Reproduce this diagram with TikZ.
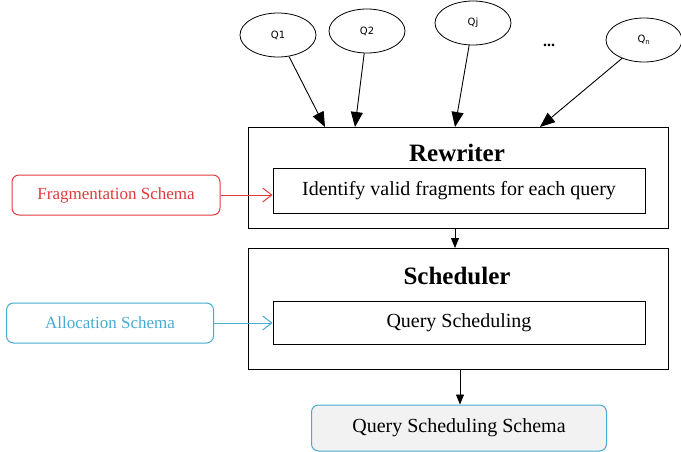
\documentclass[tikz,border=0pt]{standalone}
\usepackage{fontspec}
\setmainfont{Liberation Serif}
\newfontfamily\labelfont{DejaVu Sans}
\usetikzlibrary{arrows.meta,shapes.geometric}
\definecolor{fragred}{RGB}{226,58,58}
\definecolor{allocblue}{RGB}{72,170,210}
\definecolor{schemafill}{RGB}{242,242,242}
\tikzset{
  query/.style={draw,ellipse,line width=0.8pt,minimum width=76pt,minimum height=44pt,inner sep=0pt,font=\labelfont\fontsize{10}{12}\selectfont},
  outerbox/.style={draw,line width=1pt,minimum width=420pt,anchor=north west},
  innerbox/.style={draw,line width=1pt,minimum width=372pt,minimum height=45pt,font=\fontsize{20}{24}\selectfont},
  title/.style={font=\bfseries\fontsize{25}{28}\selectfont},
  feed/.style={draw,rounded corners=7pt,line width=1pt,minimum height=40pt,font=\fontsize{17}{20}\selectfont},
  qarrow/.style={-{Triangle[length=15pt,width=12pt]},line width=0.9pt},
  flow/.style={-{Triangle[length=10pt,width=8pt]},line width=0.9pt},
  inarrow/.style={-{Straight Barb[length=9pt,width=14pt]},line width=1pt}
}
\begin{document}
\begin{tikzpicture}[x=1pt,y=-1pt]
\useasboundingbox (0,0) rectangle (681,452);

% incoming queries
\node[query] (q1) at (278,35) {Q1};
\node[query] (q2) at (367,31) {Q2};
\node[query] (qj) at (473,23) {Qj};
\node[query] (qn) at (644,40) {Q\textsubscript{n}};
\node[font=\bfseries\fontsize{16}{18}\selectfont] (dots) at (549,45) {...};

% rewriter stage
\node[outerbox,minimum height=101pt] (rw) at (248,127) {};
\node[title] (rwt) at (457,153) {Rewriter};
\node[innerbox] (ident) at (459,191) {Identify valid fragments for each query};

% scheduler stage
\node[outerbox,minimum height=121pt] (sc) at (248,248) {};
\node[title] (sct) at (457,276) {Scheduler};
\node[innerbox,minimum height=43pt] (qs) at (459,323) {Query Scheduling};

% external inputs
\node[feed,draw=fragred,text=fragred,minimum width=208pt] (frag) at (116,195) {Fragmentation Schema};
\node[feed,draw=allocblue,text=allocblue,minimum width=207pt] (alloc) at (110,323) {Allocation Schema};

% output
\node[feed,draw=allocblue,fill=schemafill,minimum width=295pt,minimum height=46pt,font=\fontsize{20}{24}\selectfont] (out) at (459,428) {Query Scheduling Schema};

% connector end points on the rewriter's top edge
\coordinate (t1) at (325,127);
\coordinate (t2) at (355,127);
\coordinate (tj) at (455,127);
\coordinate (tn) at (540,127);

\draw[qarrow] (q1) -- (t1);
\draw[qarrow] (q2) -- (t2);
\draw[qarrow] (qj) -- (tj);
\draw[qarrow] (qn) -- (tn);

\draw[flow] (rw.south -| 455,0) -- (sc.north -| 455,0);
\draw[flow] (sc.south -| 460,0) -- (out.north -| 460,0);

\draw[inarrow,fragred] (frag.east) -- (frag.east -| ident.west);
\draw[inarrow,allocblue] (alloc.east) -- (alloc.east -| qs.west);
\end{tikzpicture}
\end{document}
